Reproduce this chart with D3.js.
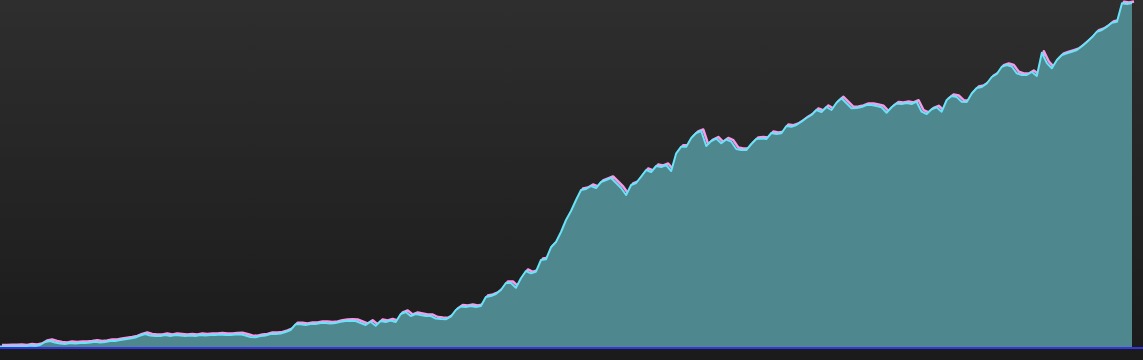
<!DOCTYPE html>
<html>
<head>
<meta charset="utf-8">
<script src="https://cdn.jsdelivr.net/npm/d3@7"></script>
<style>
  html, body { margin: 0; padding: 0; background: #1b1b1b; overflow: hidden; }
</style>
</head>
<body>
<div id="chart"></div>
<script>
// readings taken along the series, left to right
const values = [
    1.5, 1.5, 1.7, 1.7, 2, 1.5, 2.5, 2, 3, 6,
    7, 5.5, 4.5, 4, 5, 4.5, 5, 5, 5.5, 6.3,
    5.5, 6, 7, 7, 8, 8.7, 9.5, 10.5, 12.5, 14,
    12.5, 12, 12, 13, 12, 13, 12.5, 12, 12.5, 12,
    13, 12.5, 13, 13, 13.5, 13, 13, 13.5, 13.7, 12.5,
    11, 10.7, 12, 12.5, 14, 14, 14.5, 16, 18, 23.7,
    23.7, 23, 24, 24, 25, 25, 24.5, 25, 26.3, 27,
    27.3, 27, 25, 23, 26.3, 22.3, 27, 26, 27.5, 26,
    34, 36, 32, 34, 33, 32, 32, 29.5, 29, 28.7,
    31.3, 38, 41.5, 41, 42, 41, 42, 51, 52, 54,
    58, 65, 65, 60.3, 69.7, 77, 74.7, 76.3, 88, 88.7,
    100.7, 106, 116, 128, 137, 148, 158, 159, 162, 160,
    166, 168, 170, 165, 160, 153, 163, 165, 171.3, 178,
    176, 182, 181, 183, 177, 194.7, 201.3, 201.3, 210, 215,
    217, 202, 207, 209.5, 204.7, 208.5, 206.3, 199, 198, 198,
    204, 209, 209.5, 209, 215, 214, 214.7, 222, 221.3, 223,
    226.3, 230, 233, 238, 236, 241, 238, 245.3, 249.7, 244.7,
    239.7, 240, 241, 243, 243, 242, 240.7, 235.3, 240.7, 244.5,
    244, 245, 244, 246.3, 236.3, 234, 238.7, 240.7, 236.3, 248,
    252, 251, 246.3, 246, 254.5, 260, 261, 264.5, 271, 274,
    281.3, 283, 281.5, 274.7, 273, 273, 276, 272, 295.3, 285,
    279.7, 288, 293, 294.7, 296.3, 298, 301.7, 306, 310.7, 316.3,
    318, 321.3, 325.3, 326.3, 344.7, 344, 345
];
const valueMax = 348;

const width = 1143, height = 360;
const plotRight = 1132, baseY = 348;

const svg = d3.select("#chart")
    .append("svg")
    .attr("width", width)
    .attr("height", height);

const defs = svg.append("defs");
const grad = defs.append("linearGradient")
    .attr("id", "bg")
    .attr("x1", 0).attr("y1", 0).attr("x2", 0).attr("y2", 1);
grad.append("stop").attr("offset", "0%").attr("stop-color", "#2e2e2e");
grad.append("stop").attr("offset", "100%").attr("stop-color", "#1b1b1b");

svg.append("rect")
    .attr("width", width)
    .attr("height", height)
    .attr("fill", "url(#bg)");

const xScale = d3.scaleLinear()
    .domain([0, values.length - 1])
    .range([0, plotRight]);

const yScale = d3.scaleLinear()
    .domain([0, valueMax])
    .range([baseY, 0]);

const line = d3.line()
    .x((d, i) => xScale(i))
    .y(d => yScale(d));

const area = d3.area()
    .x((d, i) => xScale(i))
    .y0(yScale(0))
    .y1(d => yScale(d));

// pink ghost line, partly hidden by the fill
svg.append("path")
    .datum(values)
    .attr("fill", "none")
    .attr("stroke", "#f49ae8")
    .attr("stroke-width", 2.5)
    .attr("stroke-linejoin", "round")
    .attr("transform", "translate(2,-1.5)")
    .attr("d", line);

svg.append("path")
    .datum(values)
    .attr("fill", "#4e888e")
    .attr("d", area);

svg.append("path")
    .datum(values)
    .attr("fill", "none")
    .attr("stroke", "#6ae2f8")
    .attr("stroke-width", 2)
    .attr("stroke-linejoin", "round")
    .attr("d", line);

svg.append("rect")
    .attr("x", 0)
    .attr("y", baseY)
    .attr("width", width)
    .attr("height", height - baseY)
    .attr("fill", "#1b1b1b");

svg.append("line")
    .attr("x1", 0)
    .attr("x2", width)
    .attr("y1", baseY)
    .attr("y2", baseY)
    .attr("stroke", "#3434e0")
    .attr("stroke-width", 2);
</script>
</body>
</html>
